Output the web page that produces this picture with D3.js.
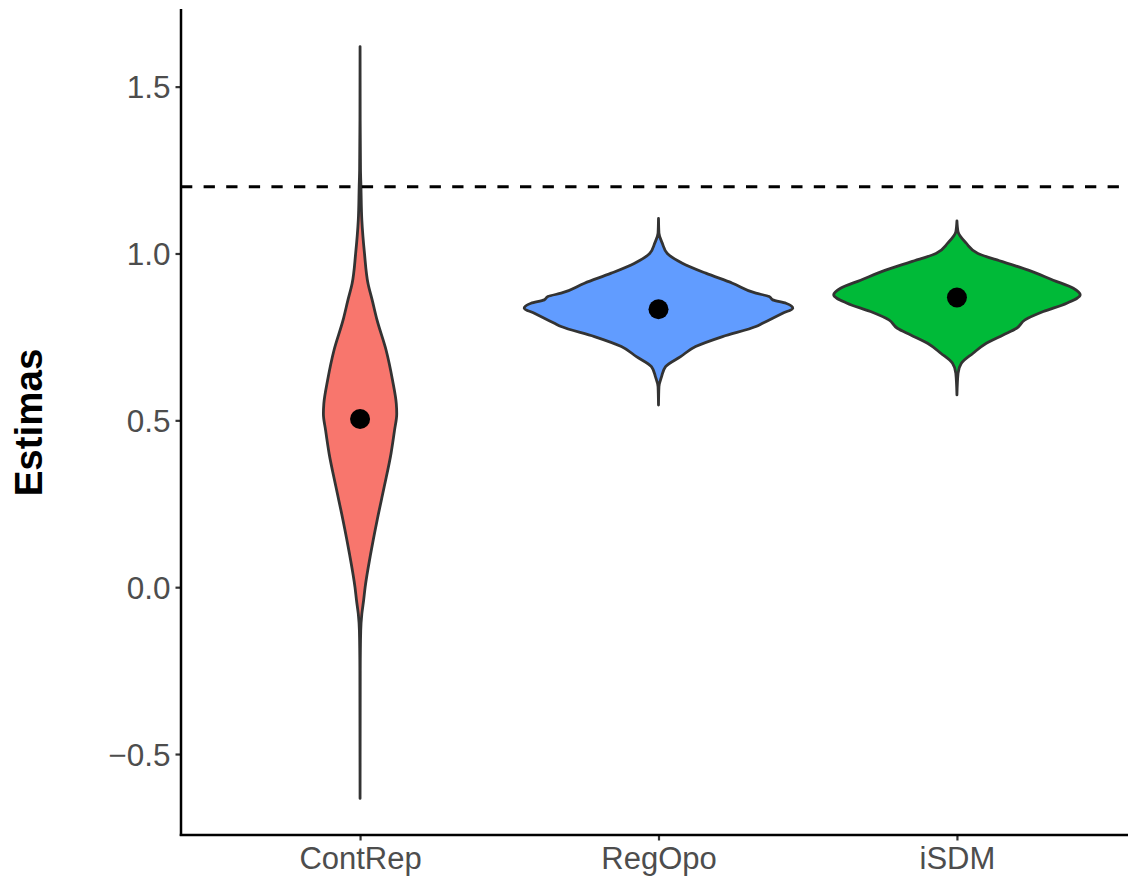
<!DOCTYPE html>
<html>
<head>
<meta charset="utf-8">
<script src="https://cdn.jsdelivr.net/npm/d3@7"></script>
<style>
  html, body { margin: 0; padding: 0; background: #ffffff; }
  svg { display: block; font-family: "Liberation Sans", Arial, Helvetica, sans-serif; }
</style>
</head>
<body>
<svg id="chart" width="1128" height="878"></svg>
<script>
// Groups and their fill colours
const categories = ["ContRep", "RegOpo", "iSDM"];
const fillColors = ["#F8766D", "#619CFF", "#00BA38"];

// Kernel density estimates (grid of estimate values, density at each point)
const contRepGrid = [-0.633, -0.25, -0.13, -0.08, -0.04, 0.00, 0.10, 0.20, 0.30, 0.40, 0.47, 0.52, 0.55, 0.62, 0.71, 0.80, 0.86, 0.91, 1.00, 1.10, 1.20, 1.25, 1.40, 1.620];
const contRepDensity = [0, 0.008, 0.03, 0.08, 0.16, 0.23, 0.48, 0.77, 1.09, 1.40, 1.56, 1.66, 1.64, 1.47, 1.18, 0.77, 0.55, 0.36, 0.20, 0.08, 0.04, 0.02, 0.005, 0];

const regOpoGrid = [0.546, 0.601, 0.631, 0.661, 0.691, 0.721, 0.751, 0.781, 0.791, 0.806, 0.821, 0.836, 0.851, 0.861, 0.871, 0.881, 0.911, 0.941, 0.971, 1.000, 1.031, 1.061, 1.105];
const regOpoDensity = [0, 0.02, 0.14, 0.32, 1.00, 1.68, 2.90, 4.41, 4.71, 5.17, 5.62, 6.08, 5.77, 5.17, 5.01, 4.41, 3.35, 2.14, 1.08, 0.40, 0.17, 0.02, 0];

const iSDMGrid = [0.576, 0.641, 0.671, 0.701, 0.731, 0.756, 0.776, 0.801, 0.826, 0.851, 0.876, 0.896, 0.920, 0.950, 0.975, 1.000, 1.031, 1.065, 1.098];
const iSDMDensity = [0, 0.05, 0.20, 0.73, 1.33, 2.09, 2.70, 3.08, 3.91, 4.97, 5.58, 5.27, 4.36, 3.23, 2.09, 0.95, 0.42, 0.05, 0];

// Group means
const meanValues = [0.504, 0.833, 0.868];

// Reference value (dashed line)
const referenceValue = 1.2;

// Axis ticks
const yTicks = [-0.5, 0.0, 0.5, 1.0, 1.5];
const yTickLabels = ["\u22120.5", "0.0", "0.5", "1.0", "1.5"];

const yTitle = "Estimas";

const violins = [
  { name: categories[0], grid: contRepGrid, density: contRepDensity, fill: fillColors[0], mean: meanValues[0] },
  { name: categories[1], grid: regOpoGrid, density: regOpoDensity, fill: fillColors[1], mean: meanValues[1] },
  { name: categories[2], grid: iSDMGrid, density: iSDMDensity, fill: fillColors[2], mean: meanValues[2] }
];

const svg = d3.select("#chart");

// Panel geometry
const panel = { left: 181, right: 1136, top: 9, bottom: 836 };

// y domain: data range expanded by 5% on each side
const allValues = violins.flatMap(v => v.grid);
const yMin = d3.min(allValues), yMax = d3.max(allValues);
const pad = (yMax - yMin) * 0.05;
const y = d3.scaleLinear()
  .domain([yMin - pad, yMax + pad])
  .range([panel.bottom, panel.top]);

const x = d3.scalePoint()
  .domain(categories)
  .range([panel.left, panel.right])
  .padding(0.6);

// violin half-width: the largest density spans 90% of a category step
const maxDensity = d3.max(violins.flatMap(v => v.density));
const halfWidth = d3.scaleLinear()
  .domain([0, maxDensity])
  .range([0, x.step() * 0.45]);

// Violins
const gViolins = svg.append("g");
violins.forEach(v => {
  const rows = v.grid.map((g, i) => ({ value: g, d: v.density[i] }));
  const cx = x(v.name);
  const area = d3.area()
    .y(r => y(r.value))
    .x0(r => cx - halfWidth(r.d))
    .x1(r => cx + halfWidth(r.d))
    .curve(d3.curveMonotoneY);
  gViolins.append("path")
    .datum(rows)
    .attr("d", area)
    .attr("fill", v.fill)
    .attr("stroke", "#333333")
    .attr("stroke-width", 2.8)
    .attr("stroke-linejoin", "round");
});

// Reference line
svg.append("line")
  .attr("x1", panel.left)
  .attr("x2", panel.right)
  .attr("y1", y(referenceValue))
  .attr("y2", y(referenceValue))
  .attr("stroke", "#000000")
  .attr("stroke-width", 2.8)
  .attr("stroke-dasharray", "11.3,11.3");

// Mean points
svg.append("g").selectAll("circle")
  .data(violins)
  .join("circle")
  .attr("cx", v => x(v.name))
  .attr("cy", v => y(v.mean))
  .attr("r", 10)
  .attr("fill", "#000000");

// Y axis
const yAxis = d3.axisLeft(y)
  .tickValues(yTicks)
  .tickFormat((d, i) => yTickLabels[i])
  .tickSize(5.5)
  .tickPadding(5);
const gy = svg.append("g")
  .attr("transform", `translate(${panel.left},0)`)
  .call(yAxis);
gy.select(".domain").remove();
gy.selectAll(".tick line").attr("stroke", "#333333").attr("stroke-width", 2.2);
gy.selectAll(".tick text")
  .attr("fill", "#4D4D4D")
  .style("font-size", "31.5px")
  .attr("dy", "0.36em");

// X axis
const xAxis = d3.axisBottom(x)
  .tickSize(5.5)
  .tickPadding(4);
const gx = svg.append("g")
  .attr("transform", `translate(0,${panel.bottom - 1})`)
  .call(xAxis);
gx.select(".domain").remove();
gx.selectAll(".tick line").attr("stroke", "#333333").attr("stroke-width", 2.2);
gx.selectAll(".tick text")
  .attr("fill", "#4D4D4D")
  .style("font-size", "31px")
  .attr("dy", "0.78em");

// Axis lines
svg.append("line")
  .attr("x1", panel.left).attr("x2", panel.left)
  .attr("y1", panel.top).attr("y2", panel.bottom)
  .attr("stroke", "#000000").attr("stroke-width", 2.5);
svg.append("line")
  .attr("x1", panel.left - 1.25).attr("x2", panel.right)
  .attr("y1", panel.bottom - 1).attr("y2", panel.bottom - 1)
  .attr("stroke", "#000000").attr("stroke-width", 2.5);

// Y title
svg.append("text")
  .attr("transform", `translate(42,${(panel.top + panel.bottom) / 2}) rotate(-90)`)
  .attr("text-anchor", "middle")
  .attr("font-weight", "bold")
  .style("font-size", "38.5px")
  .attr("fill", "#000000")
  .text(yTitle);
</script>
</body>
</html>
